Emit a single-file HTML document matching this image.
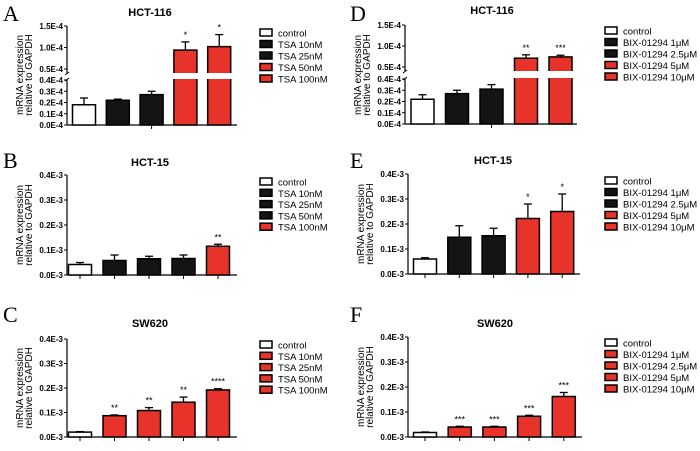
<!DOCTYPE html>
<html><head><meta charset="utf-8"><style>
html,body{margin:0;padding:0;background:#fff;}
svg{display:block;font-family:"Liberation Sans",Arial,sans-serif;}
</style></head><body>
<svg id="fig" width="700" height="451" viewBox="0 0 700 451"></svg>
<script>
// ---- data ----
const tsaLabels = ["control","TSA 10nM","TSA 25nM","TSA 50nM","TSA 100nM"];
const bixLabels = ["control","BIX-01294 1μM","BIX-01294 2.5μM","BIX-01294 5μM","BIX-01294 10μM"];
const aValues = [0.18,0.22,0.27,0.94,1.02];
const aErrors = [0.24,0.23,0.30,1.13,1.30];
const aStars = ["","","","*","*"];
const bValues = [0.042,0.058,0.065,0.066,0.115];
const bErrors = [0.050,0.080,0.075,0.080,0.123];
const bStars = ["","","","","**"];
const cValues = [0.020,0.087,0.108,0.142,0.192];
const cErrors = [0.022,0.090,0.120,0.163,0.197];
const cStars = ["","**","**","**","****"];
const dValues = [0.22,0.27,0.31,0.71,0.74];
const dErrors = [0.26,0.30,0.35,0.79,0.78];
const dStars = ["","","","**","***"];
const eValues = [0.060,0.147,0.153,0.222,0.250];
const eErrors = [0.065,0.193,0.183,0.280,0.320];
const eStars = ["","","","*","*"];
const fValues = [0.018,0.040,0.040,0.083,0.162];
const fErrors = [0.020,0.043,0.043,0.087,0.178];
const fStars = ["","***","***","***","***"];
const lowTicks4 = ["0.0E-4","0.1E-4","0.2E-4","0.3E-4","0.4E-4"];
const highTicks4 = ["0.5E-4","1.0E-4","1.5E-4"];
const ticks3 = ["0.0E-3","0.1E-3","0.2E-3","0.3E-3","0.4E-3"];

const NS="http://www.w3.org/2000/svg";
const svg=document.getElementById('fig');
const RED="#e8332b", BLK="#141414";
function el(tag,attrs,parent){const e=document.createElementNS(NS,tag);for(const k in attrs)e.setAttribute(k,attrs[k]);(parent||svg).appendChild(e);return e;}
function txt(s,attrs,parent){const e=el('text',attrs,parent);e.textContent=s;return e;}

function panel(cfg){
  const g=el('g',{});
  
  
  const letter=txt(cfg.letter,{x:cfg.lx,y:cfg.ly,'font-family':'"Liberation Serif",serif','font-size':22},g);
  
  
  const t=txt(cfg.title,{x:cfg.tx,y:cfg.ty,'font-size':11,'font-weight':'bold','text-anchor':'middle'},g);
  
  
  const yt=el('g',{transform:`translate(${cfg.ax-44},${cfg.ymid}) rotate(-90)`},g);
  
  
  txt('mRNA expression',{x:0,y:0,'font-size':10,'text-anchor':'middle'},yt);
  txt('relative to GAPDH',{x:0,y:9,'font-size':10,'text-anchor':'middle'},yt);
  const y=cfg.y;
  if(cfg.broken){
    el('line',{x1:cfg.ax,y1:y(1.5),x2:cfg.ax,y2:y(0.5)+4,stroke:'#000','stroke-width':1.2},g);
    el('line',{x1:cfg.ax,y1:y(0.4)-1,x2:cfg.ax,y2:y(0),stroke:'#000','stroke-width':1.2},g);
    el('line',{x1:cfg.ax-2,y1:y(0.5)+6,x2:cfg.ax+2,y2:y(0.5)+3,stroke:'#000','stroke-width':1},g);
    el('line',{x1:cfg.ax-2,y1:y(0.4)+1,x2:cfg.ax+2,y2:y(0.4)-2,stroke:'#000','stroke-width':1},g);
    lowTicks4.forEach((s,i)=>{const v=i*0.1;tick(g,cfg.ax,y(v),s);});
    highTicks4.forEach((s,i)=>{const v=0.5+i*0.5;tick(g,cfg.ax,y(v),s);});
  } else {
    el('line',{x1:cfg.ax,y1:y(0.4),x2:cfg.ax,y2:y(0),stroke:'#000','stroke-width':1.2},g);
    ticks3.forEach((s,i)=>{tick(g,cfg.ax,y(i*0.1),s);});
  }
  el('line',{x1:cfg.ax,y1:y(0),x2:cfg.xend,y2:y(0),stroke:'#000','stroke-width':1.2},g);
  cfg.values.forEach((v,i)=>{
    const cx=cfg.c0+i*cfg.sp;
    if(!cfg.broken || i===2) el('line',{x1:cx,y1:y(0),x2:cx,y2:y(0)+4,stroke:'#000','stroke-width':1},g);
    const err=cfg.errors[i];
    el('line',{x1:cx,y1:y(v),x2:cx,y2:y(err),stroke:'#000','stroke-width':1.3},g);
    el('line',{x1:cx-4,y1:y(err),x2:cx+4,y2:y(err),stroke:'#000','stroke-width':1.3},g);
    const b=el('rect',{x:cx-11.5,y:y(v),width:23,height:y(0)-y(v),fill:cfg.colors[i],stroke:'#000','stroke-width':1.5},g);
    
    
    if(cfg.broken && v>0.5){
      el('rect',{x:cx-13,y:y(0.5)+4,width:26,height:y(0.4)-y(0.5)-5,fill:'#fff'},g);
    }
    if(cfg.stars[i]){
      const s=txt(cfg.stars[i],{x:cx,y:y(err)-4,'font-size':9,'text-anchor':'middle'},g);
      
      
    }
  });
  const lg=el('g',{},g);
  
  
  cfg.labels.forEach((s,i)=>{
    const ly=cfg.lgy+i*cfg.lgs;
    const e=el('g',{},lg);
    
    
    el('rect',{x:cfg.lgx,y:ly-4,width:12,height:7,fill:cfg.colors[i],stroke:'#000','stroke-width':1.5},e);
    txt(s,{x:cfg.lgx+18,y:ly+3.5,'font-size':9.5},e);
  });
}
function tick(g,ax,yy,s){
  el('line',{x1:ax-3,y1:yy,x2:ax,y2:yy,stroke:'#000','stroke-width':1},g);
  txt(s,{x:ax-4,y:yy+3,'font-size':8,'font-weight':'bold','text-anchor':'end'},g);
}
function brokenScale(y0,yU,ppuU){return v=> v<=0.45 ? y0-v*112.5 : yU-(v-0.5)*ppuU;}
function linScale(y0,ppu){return v=>y0-v*ppu;}
const W="#fff";
panel({id:'a',letter:'A',lx:3,ly:21,title:'HCT-116',tx:150,ty:16,ax:67,xend:237,ymid:75,broken:true,
  y:brokenScale(125,69,43),c0:84,sp:33.8,values:aValues,errors:aErrors,stars:aStars,
  colors:[W,BLK,BLK,RED,RED],labels:tsaLabels,lgx:260,lgy:33,lgs:11.5});
panel({id:'b',letter:'B',lx:3,ly:168,title:'HCT-15',tx:150,ty:166,ax:67,xend:237,ymid:225,
  y:linScale(275,250),c0:80,sp:34.5,values:bValues,errors:bErrors,stars:bStars,
  colors:[W,BLK,BLK,BLK,RED],labels:tsaLabels,lgx:260,lgy:182,lgs:11.3});
panel({id:'c',letter:'C',lx:3,ly:322,title:'SW620',tx:150,ty:327,ax:67,xend:237,ymid:388,
  y:linScale(437,245),c0:80,sp:34.5,values:cValues,errors:cErrors,stars:cStars,
  colors:[W,RED,RED,RED,RED],labels:tsaLabels,lgx:260,lgy:345,lgs:11.3});
panel({id:'d',letter:'D',lx:350,ly:21,title:'HCT-116',tx:492,ty:14,ax:405,xend:577,ymid:75,broken:true,
  y:brokenScale(124,67,42),c0:422.5,sp:34.5,values:dValues,errors:dErrors,stars:dStars,
  colors:[W,BLK,BLK,RED,RED],labels:bixLabels,lgx:605,lgy:31,lgs:11.5});
panel({id:'e',letter:'E',lx:350,ly:168,title:'HCT-15',tx:493,ty:164,ax:408,xend:580,ymid:224,
  y:linScale(274,250),c0:425,sp:34.3,values:eValues,errors:eErrors,stars:eStars,
  colors:[W,BLK,BLK,RED,RED],labels:bixLabels,lgx:605,lgy:181,lgs:11.5});
panel({id:'f',letter:'F',lx:350,ly:322,title:'SW620',tx:495,ty:327,ax:408,xend:582,ymid:387,
  y:linScale(437,250),c0:425,sp:34.7,values:fValues,errors:fErrors,stars:fStars,
  colors:[W,RED,RED,RED,RED],labels:bixLabels,lgx:605,lgy:343,lgs:11.5});
</script>
</body></html>
